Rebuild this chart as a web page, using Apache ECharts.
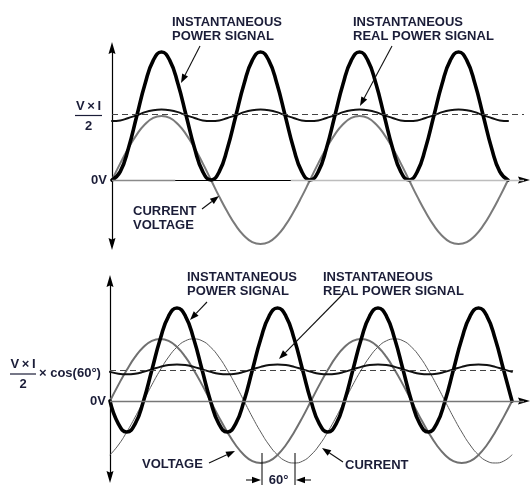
<!DOCTYPE html>
<html>
<head>
<meta charset="utf-8">
<script src="https://cdn.jsdelivr.net/npm/echarts@6/dist/echarts.min.js"></script>
<style>html,body{margin:0;padding:0;background:#fff}#c{width:530px;height:485px}</style>
</head>
<body>
<div id="c"></div>
<script>
// phase angle of the voltage (degrees), sampled every 15 degrees
const phase = [0,15,30,45,60,75,90,105,120,135,150,165,180,195,210,225,240,255,270,285,300,315,330,345,360,375,390,405,420,435,450,465,480,495,510,525,540,555,570,585,600,615,630,645,660,675,690,705,720];

// top panel: current in phase with voltage
const topVoltage = [0,0.26,0.5,0.71,0.87,0.97,1,0.97,0.87,0.71,0.5,0.26,0,-0.26,-0.5,-0.71,-0.87,-0.97,-1,-0.97,-0.87,-0.71,-0.5,-0.26,0,0.26,0.5,0.71,0.87,0.97,1,0.97,0.87,0.71,0.5,0.26,0,-0.26,-0.5,-0.71,-0.87,-0.97,-1,-0.97,-0.87,-0.71,-0.5,-0.26,0];
const topPower = [0,0.13,0.5,1,1.5,1.87,2,1.87,1.5,1,0.5,0.13,0,0.13,0.5,1,1.5,1.87,2,1.87,1.5,1,0.5,0.13,0,0.13,0.5,1,1.5,1.87,2,1.87,1.5,1,0.5,0.13,0,0.13,0.5,1,1.5,1.87,2,1.87,1.5,1,0.5,0.13,0];
const topRealPower = [0.92,0.93,0.97,1.01,1.06,1.09,1.1,1.09,1.06,1.01,0.97,0.93,0.92,0.93,0.97,1.01,1.06,1.09,1.1,1.09,1.06,1.01,0.97,0.93,0.92,0.93,0.97,1.01,1.06,1.09,1.1,1.09,1.06,1.01,0.97,0.93,0.92,0.93,0.97,1.01,1.06,1.09,1.1,1.09,1.06,1.01,0.97,0.93,0.92];
const topAverage = 1.02;

// bottom panel: current lagging voltage by 60 degrees
const botVoltage = [0,0.26,0.5,0.71,0.87,0.97,1,0.97,0.87,0.71,0.5,0.26,0,-0.26,-0.5,-0.71,-0.87,-0.97,-1,-0.97,-0.87,-0.71,-0.5,-0.26,0,0.26,0.5,0.71,0.87,0.97,1,0.97,0.87,0.71,0.5,0.26,0,-0.26,-0.5,-0.71,-0.87,-0.97,-1,-0.97,-0.87,-0.71,-0.5,-0.26,0];
const botCurrent = [-0.87,-0.71,-0.5,-0.26,0,0.26,0.5,0.71,0.87,0.97,1,0.97,0.87,0.71,0.5,0.26,0,-0.26,-0.5,-0.71,-0.87,-0.97,-1,-0.97,-0.87,-0.71,-0.5,-0.26,0,0.26,0.5,0.71,0.87,0.97,1,0.97,0.87,0.71,0.5,0.26,0,-0.26,-0.5,-0.71,-0.87,-0.97,-1,-0.97,-0.87];
const botPower = [0,-0.37,-0.5,-0.37,0,0.5,1,1.37,1.5,1.37,1,0.5,0,-0.37,-0.5,-0.37,0,0.5,1,1.37,1.5,1.37,1,0.5,0,-0.37,-0.5,-0.37,0,0.5,1,1.37,1.5,1.37,1,0.5,0,-0.37,-0.5,-0.37,0,0.5,1,1.37,1.5,1.37,1,0.5,0];
const botRealPower = [0.47,0.44,0.43,0.44,0.47,0.51,0.55,0.58,0.59,0.58,0.55,0.51,0.47,0.44,0.43,0.44,0.47,0.51,0.55,0.58,0.59,0.58,0.55,0.51,0.47,0.44,0.43,0.44,0.47,0.51,0.55,0.58,0.59,0.58,0.55,0.51,0.47,0.44,0.43,0.44,0.47,0.51,0.55,0.58,0.59,0.58,0.55,0.51,0.47];
const botAverage = 0.5;

const pairs = (ys) => phase.map((x, i) => [x, ys[i]]);

const TXT = '#1b1d38';
const FONT = 'bold 13px "Liberation Sans", Arial, sans-serif';
const ARROW = 'path://M3.5,0L7,12L3.5,10.5L0,12Z';

function axisX(gi, max) {
  return {
    gridIndex: gi, type: 'value', min: 0, max: max,
    axisLine: { show: true, onZero: true, symbol: ['none', ARROW], symbolSize: [7, 12], lineStyle: { color: '#000', width: 1.2 } },
    axisTick: { show: false }, axisLabel: { show: false }, splitLine: { show: false }
  };
}
function axisY(gi, min, max) {
  return {
    gridIndex: gi, type: 'value', min: min, max: max,
    axisLine: { show: true, onZero: false, symbol: [ARROW, ARROW], symbolSize: [7, 12], lineStyle: { color: '#000', width: 1.2 } },
    axisTick: { show: false }, axisLabel: { show: false }, splitLine: { show: false }
  };
}
function line(gi, ys, color, width, z) {
  return {
    type: 'line', xAxisIndex: gi, yAxisIndex: gi, data: pairs(ys), smooth: 0.5,
    showSymbol: false, symbol: 'none', clip: false, z: z, silent: true, animation: false,
    lineStyle: { color: color, width: width, cap: 'round', join: 'round' }
  };
}

const graphics = [];
function text(x, y, str, align, extra) {
  graphics.push({ type: 'text', x: x, y: y, silent: true, z: 100,
    style: Object.assign({ text: str, font: FONT, fill: TXT, align: align || 'left', verticalAlign: 'middle', lineHeight: 14 }, extra || {}) });
}
function seg(x1, y1, x2, y2, w, color) {
  graphics.push({ type: 'line', silent: true, z: 100, shape: { x1: x1, y1: y1, x2: x2, y2: y2 }, style: { stroke: color || '#000', lineWidth: w || 1 } });
}
function arrow(x1, y1, x2, y2) {
  const a = Math.atan2(y2 - y1, x2 - x1), L = 9, W = 3.3;
  const bx = x2 - L * Math.cos(a), by = y2 - L * Math.sin(a);
  seg(x1, y1, bx, by, 1.1, '#111');
  graphics.push({ type: 'polygon', silent: true, z: 100,
    shape: { points: [[x2, y2], [bx + W * Math.sin(a), by - W * Math.cos(a)], [bx - W * Math.sin(a), by + W * Math.cos(a)]] },
    style: { fill: '#000' } });
}

// top panel annotations
text(172, 22, 'INSTANTANEOUS\nPOWER SIGNAL', 'left', { verticalAlign: 'top', y: -7 });
arrow(200, 46, 181, 83);
text(353, 22, 'INSTANTANEOUS\nREAL POWER SIGNAL', 'left', { verticalAlign: 'top', y: -7 });
arrow(392, 46, 360, 106);
text(133, 211, 'CURRENT\nVOLTAGE', 'left', { verticalAlign: 'top', y: -7 });
arrow(202, 209, 219, 196);
text(88.5, 106, 'V\u2009\u00d7\u2009I', 'center');
seg(75, 115.5, 102, 115.5, 1.2, TXT);
text(88.5, 126, '2', 'center');
text(107, 180, '0V', 'right');

// bottom panel annotations
text(187, 277, 'INSTANTANEOUS\nPOWER SIGNAL', 'left', { verticalAlign: 'top', y: -7 });
arrow(207, 302, 190, 320);
text(323, 277, 'INSTANTANEOUS\nREAL POWER SIGNAL', 'left', { verticalAlign: 'top', y: -7 });
arrow(343, 294, 279, 359);
text(23, 364, 'V\u2009\u00d7\u2009I', 'center');
seg(10, 374, 36, 374, 1.2, TXT);
text(23, 384, '2', 'center');
text(39, 373, '\u00d7 cos(60\u00b0)', 'left');
text(106, 401, '0V', 'right');
text(142, 464, 'VOLTAGE', 'left');
arrow(209, 463, 235, 451);
text(345, 465, 'CURRENT', 'left');
arrow(343, 462, 322, 448);
seg(262, 453, 262, 485, 1, '#000');
seg(295, 453, 295, 485, 1, '#000');
arrow(246, 480, 261, 480);
arrow(311, 480, 296, 480);
text(278.5, 480, '60\u00b0', 'center');

const option = {
  animation: false,
  backgroundColor: '#fff',
  grid: [
    { left: 112, top: 48, width: 412, height: 196 },
    { left: 110, top: 281, width: 414, height: 196 }
  ],
  xAxis: [axisX(0, 749), axisX(1, 741.5)],
  yAxis: [axisY(0, -1, 2.0625), axisY(1, -1.226, 1.935)],
  series: [
    Object.assign(line(0, topVoltage, '#7a7a7a', 2, 2), {
      markLine: {
        silent: true, symbol: ['none', 'none'], label: { show: false }, animation: false,
        data: [
          [{ coord: [0, 0], lineStyle: { color: '#8a8a8a', width: 1.4, type: 'solid' } }, { coord: [115, 0] }],
          [{ coord: [325, 0], lineStyle: { color: '#bdbdbd', width: 1.4, type: 'solid' } }, { coord: [749, 0] }],
          [{ coord: [0, topAverage], lineStyle: { color: '#444', width: 1, type: [6, 4] } }, { coord: [749, topAverage] }]
        ]
      }
    }),
    line(0, topRealPower, '#111', 2, 3),
    line(0, topPower, '#000', 3.6, 4),
    Object.assign(line(1, botCurrent, '#5a5a5a', 1, 2), {
      markLine: {
        silent: true, symbol: ['none', 'none'], label: { show: false }, animation: false,
        data: [
          [{ coord: [0, 0], lineStyle: { color: '#777', width: 1.4, type: 'solid' } }, { coord: [741.5, 0] }],
          [{ coord: [0, botAverage], lineStyle: { color: '#444', width: 1, type: [6, 4] } }, { coord: [722, botAverage] }]
        ]
      }
    }),
    line(1, botVoltage, '#707070', 2, 2),
    line(1, botRealPower, '#111', 2, 3),
    line(1, botPower, '#000', 3.6, 4)
  ],
  graphic: graphics
};

const chart = echarts.init(document.getElementById('c'), null, { renderer: 'canvas' });
chart.setOption(option);
</script>
</body>
</html>
